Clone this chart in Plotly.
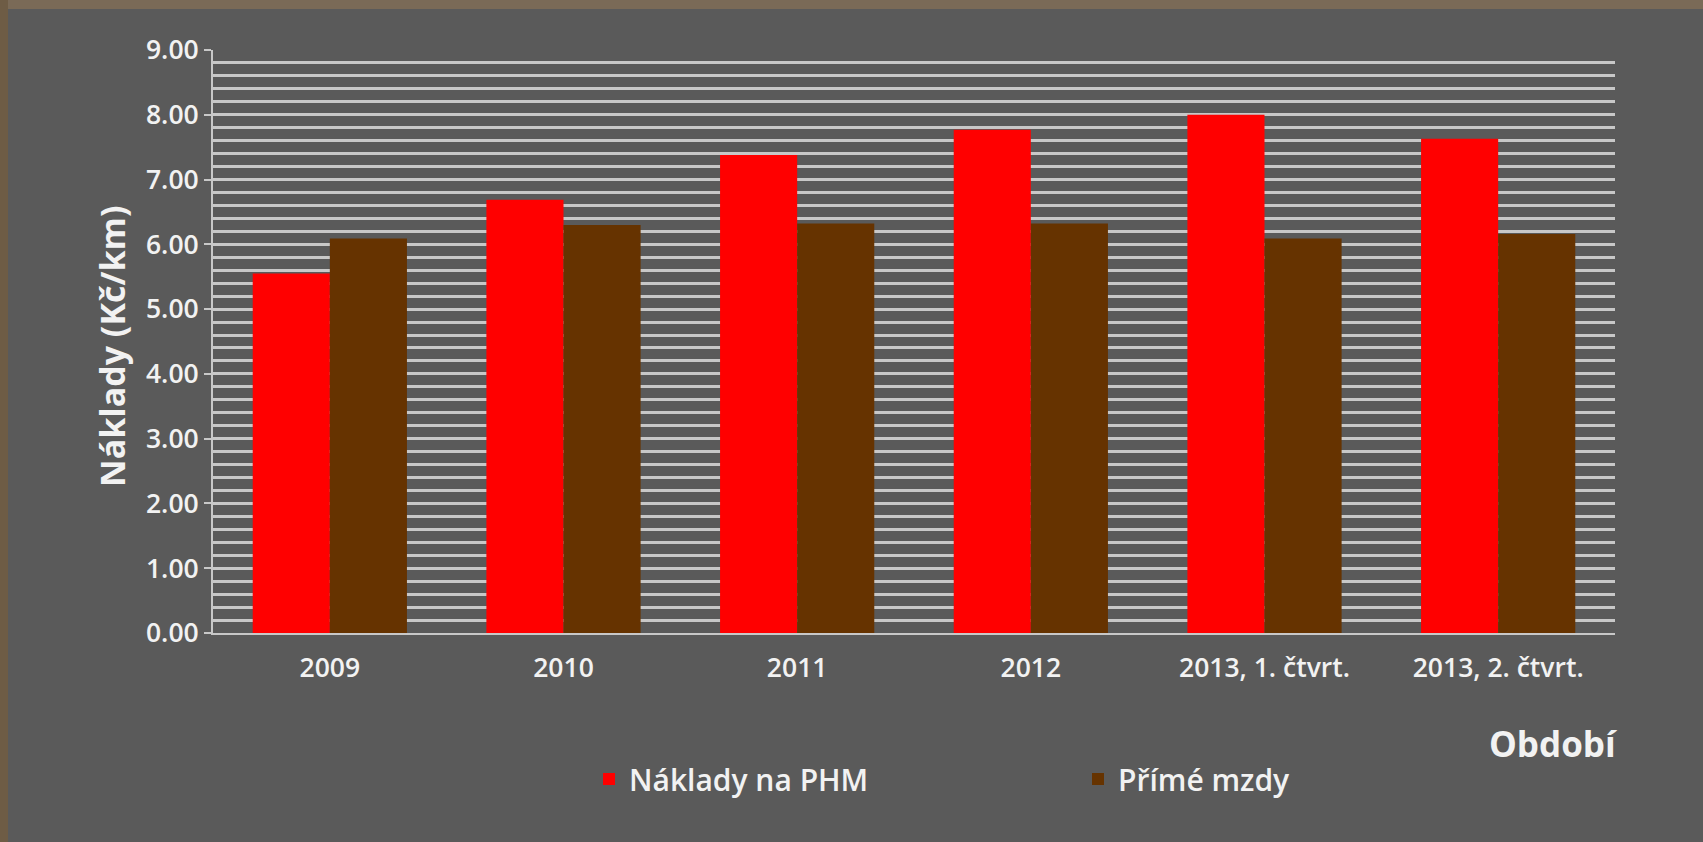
import plotly.graph_objects as go

# Cost per kilometre by period
periods = ["2009", "2010", "2011", "2012", "2013, 1. čtvrt.", "2013, 2. čtvrt."]
fuel_costs = [5.55, 6.69, 7.38, 7.77, 8.00, 7.63]      # Náklady na PHM
direct_wages = [6.09, 6.30, 6.32, 6.32, 6.09, 6.16]    # Přímé mzdy
series_names = ["Náklady na PHM", "Přímé mzdy"]
y_ticks = [0, 1, 2, 3, 4, 5, 6, 7, 8, 9]

W, H = 1703, 842
L, R, T, B = 213, 88, 50, 209
PW, PH = W - L - R, H - T - B

def px_x(x):
    return (x - L) / PW

def px_y(y):
    return (H - B - y) / PH

BG = "#5a5a5a"
GRID = "#c8c8c8"
TXT = "#f2f2f2"
FONT = "Open Sans"

fig = go.Figure()
fig.add_trace(go.Bar(x=periods, y=fuel_costs, name=series_names[0],
                     marker=dict(color="#ff0000", line=dict(width=0))))
fig.add_trace(go.Bar(x=periods, y=direct_wages, name=series_names[1],
                     marker=dict(color="#663300", line=dict(width=0))))

fig.update_layout(
    width=W, height=H,
    margin=dict(l=L, r=R, t=T, b=B, autoexpand=False),
    paper_bgcolor=BG, plot_bgcolor=BG,
    barmode="group", bargap=0.34, bargroupgap=0,
    font=dict(family=FONT, color=TXT, size=20),
    showlegend=True,
    legend=dict(orientation="h", x=px_x(589), y=px_y(779), xanchor="left", yanchor="middle",
                font=dict(family=FONT, size=30, color=TXT, weight=600), bgcolor="rgba(0,0,0,0)",
                entrywidth=444, entrywidthmode="pixels", itemclick=False),
    xaxis=dict(showgrid=False, showline=True, linecolor=GRID, linewidth=2,
               ticks="", tickfont=dict(family=FONT, size=26.5, color=TXT, weight=600),
               ticklabelstandoff=10, fixedrange=True),
    yaxis=dict(range=[0, 9], tickvals=y_ticks, tickformat=".2f",
               showgrid=True, gridcolor=GRID, gridwidth=2.5,
               minor=dict(dtick=0.2, showgrid=True, gridcolor=GRID, gridwidth=2.5, ticks=""),
               showline=True, linecolor=GRID, linewidth=2,
               ticks="outside", ticklen=7, tickcolor=GRID, tickwidth=2,
               tickfont=dict(family=FONT, size=26.5, color=TXT, weight=600),
               zeroline=False, fixedrange=True),
    annotations=[
        dict(text="<b>Náklady (Kč/km)</b>", textangle=-90, x=px_x(112), y=px_y(347),
             xref="paper", yref="paper", showarrow=False,
             font=dict(family=FONT, size=34, color=TXT), xanchor="center", yanchor="middle"),
        dict(text="<b>Období</b>", x=px_x(1553), y=px_y(743),
             xref="paper", yref="paper", showarrow=False,
             font=dict(family=FONT, size=35, color=TXT), xanchor="center", yanchor="middle"),
    ],
    shapes=[
        dict(type="rect", xref="paper", yref="paper", x0=px_x(0), x1=px_x(W), y0=px_y(0), y1=px_y(9),
             fillcolor="#7a6a57", line=dict(width=0), layer="below"),
        dict(type="rect", xref="paper", yref="paper", x0=px_x(0), x1=px_x(8), y0=px_y(0), y1=px_y(H),
             fillcolor="#6e5c45", line=dict(width=0), layer="below"),
    ],
)

fig.write_html("out.html", config={"displayModeBar": False})
